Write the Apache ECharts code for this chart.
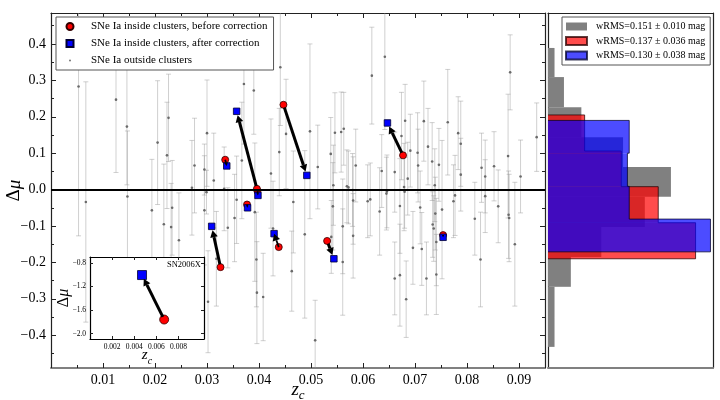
<!DOCTYPE html>
<html>
<head>
<meta charset="UTF-8">
<title>Δμ vs z_c</title>
<script src="https://cdn.jsdelivr.net/npm/echarts@6/dist/echarts.min.js"></script>
<style>
  html, body { margin: 0; padding: 0; background: #fff; }
  #main { width: 720px; height: 400px; }
</style>
</head>
<body>
<div id="main"></div>
<script>
// ---- SNe Ia outside clusters: redshift, residual, error ----
const outZ = [0.0053, 0.0067, 0.0125, 0.0146, 0.0147, 0.0194, 0.0205, 0.0217, 0.0223, 0.0226, 0.0231, 0.0233,
  0.0276, 0.0271, 0.0246, 0.0300, 0.0295, 0.0299, 0.0295, 0.0302, 0.0313, 0.0318, 0.0333, 0.0340, 0.0353, 0.0357,
  0.0367, 0.0371, 0.0390, 0.0392, 0.0395, 0.0396, 0.0408, 0.0423, 0.0427, 0.0439, 0.0441, 0.0452, 0.0463, 0.0466,
  0.0488, 0.0498, 0.0508, 0.0513, 0.0538, 0.0543, 0.0542, 0.0546, 0.0539, 0.0558, 0.0563, 0.0561, 0.0561, 0.0569,
  0.0572, 0.0580, 0.0581, 0.0581, 0.0586, 0.0609, 0.0614, 0.0617, 0.0632, 0.0636, 0.0642, 0.0645, 0.0646, 0.0661,
  0.0661, 0.0671, 0.0671, 0.0674, 0.0679, 0.0680, 0.0681, 0.0683, 0.0686, 0.0691, 0.0696, 0.0705, 0.0706, 0.0710,
  0.0713, 0.0717, 0.0722, 0.0725, 0.0733, 0.0734, 0.0736, 0.0738, 0.0739, 0.0741, 0.0741, 0.0746, 0.0752, 0.0763,
  0.0774, 0.0777, 0.0783, 0.0788, 0.0788, 0.0815, 0.0826, 0.0828, 0.0835, 0.0835, 0.0852, 0.0860, 0.0879, 0.0880,
  0.0881, 0.0883, 0.0892, 0.0903, 0.0934];
const outDmu = [0.283, -0.034, 0.247, 0.173, -0.019, -0.057, 0.129, -0.095, 0.094, 0.197, -0.103, -0.050,
  0.066, 0.005, -0.139, 0.155, 0.055, -0.007, -0.057, -0.308, 0.025, -0.190, 0.002, -0.105, -0.078, -0.028,
  0.080, 0.290, 0.272, -0.062, -0.192, -0.283, -0.295, 0.044, -0.107, 0.103, 0.336, 0.153, -0.224, -0.034,
  -0.123, 0.160, -0.414, 0.062, 0.098, 0.012, -0.046, 0.156, -0.130, 0.158, 0.167, -0.101, -0.199, 0.009,
  0.006, -0.001, -0.030, -0.127, 0.066, -0.032, -0.027, 0.313, -0.060, 0.051, 0.365, -0.011, -0.005, 0.048,
  -0.244, -0.045, -0.235, 0.147, 0.007, -0.006, 0.189, -0.301, 0.030, 0.107, -0.160, 0.101, 0.066, -0.049,
  -0.163, 0.188, -0.244, 0.118, 0.077, -0.096, -0.107, 0.012, -0.066, -0.144, -0.233, 0.068, -0.055, 0.185,
  -0.032, -0.016, 0.155, 0.126, 0.041, -0.080, -0.192, 0.060, 0.036, -0.018, 0.064, -0.046, 0.092, -0.069,
  -0.078, 0.322, -0.150, 0.036, 0.144];
const outErr = [0.41, 0.33, 0.20, 0.16, 0.18, 0.14, 0.17, 0.165, 0.146, 0.12, 0.12, 0.13,
  0.13, 0.13, 0.13, 0.146, 0.07, 0.06, 0.15, 0.14, 0.13, 0.13, 0.115, 0.11, 0.12, 0.12,
  0.16, 0.165, 0.12, 0.19, 0.13, 0.14, 0.12, 0.15, 0.13, 0.12, 0.16, 0.15, 0.11, 0.14,
  0.23, 0.24, 0.11, 0.115, 0.10, 0.11, 0.12, 0.11, 0.10, 0.11, 0.10, 0.13, 0.146, 0.10,
  0.10, 0.10, 0.12, 0.116, 0.10, 0.10, 0.10, 0.133, 0.12, 0.10, 0.20, 0.10, 0.10, 0.11,
  0.10, 0.13, 0.14, 0.12, 0.12, 0.10, 0.10, 0.105, 0.10, 0.10, 0.10, 0.11, 0.10, 0.10,
  0.10, 0.11, 0.10, 0.105, 0.107, 0.09, 0.09, 0.10, 0.10, 0.12, 0.11, 0.10, 0.19, 0.145,
  0.10, 0.11, 0.10, 0.117, 0.10, 0.10, 0.13, 0.095, 0.10, 0.10, 0.095, 0.10, 0.17, 0.12,
  0.12, 0.103, 0.17, 0.10, 0.094];

// ---- SNe Ia inside clusters, before / after correction ----
const beforeZ   = [0.0326, 0.0335, 0.0397, 0.0396, 0.0377, 0.0438, 0.0447, 0.0531, 0.0677, 0.0754];
const beforeDmu = [-0.213, 0.082, -0.004, 0.002, -0.041, -0.158, 0.233, -0.141, 0.094, -0.125];
const afterZ    = [0.0309, 0.0338, 0.0398, 0.0357, 0.0378, 0.0429, 0.0492, 0.0544, 0.0647, 0.0754];
const afterDmu  = [-0.101, 0.065, -0.016, 0.215, -0.050, -0.121, 0.039, -0.190, 0.183, -0.131];

// SN2006X (inset): [before, after]
const sn2006xZ   = [0.0067, 0.0047];
const sn2006xDmu = [-1.76, -1.006];

// ---- residual histograms (density), bins from top to bottom ----
const grayEdges = [0.389, 0.309, 0.226, 0.144, 0.062, -0.020, -0.103, -0.185, -0.267, -0.350, -0.432];
const grayDens  = [0.18, 0.44, 0.92, 2.07, 3.39, 2.67, 1.47, 0.63, 0.18, 0.18];
const redEdges  = [0.205, 0.106, 0.008, -0.091, -0.190];
const redDens   = [1.01, 2.02, 3.04, 4.07];
const blueEdges = [0.190, 0.100, 0.009, -0.081, -0.171];
const blueDens  = [2.24, 2.19, 2.24, 4.48];
const histNames = ['wRMS=0.151 \u00b1 0.010 mag', 'wRMS=0.137 \u00b1 0.036 mag', 'wRMS=0.130 \u00b1 0.038 mag'];

// ---- tick values ----
const yTicks = [-0.4, -0.3, -0.2, -0.1, 0.0, 0.1, 0.2, 0.3, 0.4];
const yMinorTicks = [-0.45, -0.35, -0.25, -0.15, -0.05, 0.05, 0.15, 0.25, 0.35, 0.45];
const insetYTicks = [-2.0, -1.6, -1.2, -0.8];
const insetXTicks = [0.002, 0.004, 0.006, 0.008];

const SERIF = "'Liberation Serif', 'DejaVu Serif', serif";
const DARK = '#222';
const fmt = (v, d) => (v < -1e-9 ? '\u2212' : '') + Math.abs(v).toFixed(d);

const errRows = outZ.map((z, i) => [z, outDmu[i], outErr[i]]);
const pairRows = beforeZ.map((z, i) => [z, beforeDmu[i], afterZ[i], afterDmu[i]]);

function errorBarItem(params, api) {
  const x = api.value(0), y = api.value(1), e = api.value(2);
  const top = api.coord([x, y + e]), bot = api.coord([x, y - e]);
  const cap = 2.5;
  const style = { stroke: 'rgba(150,150,150,0.45)', lineWidth: 1 };
  return {
    type: 'group',
    children: [
      { type: 'line', shape: { x1: top[0], y1: top[1], x2: bot[0], y2: bot[1] }, style },
      { type: 'line', shape: { x1: top[0] - cap, y1: top[1], x2: top[0] + cap, y2: top[1] }, style },
      { type: 'line', shape: { x1: bot[0] - cap, y1: bot[1], x2: bot[0] + cap, y2: bot[1] }, style }
    ]
  };
}

function arrowItem(params, api) {
  const p0 = api.coord([api.value(0), api.value(1)]);
  const p1 = api.coord([api.value(2), api.value(3)]);
  const dx = p1[0] - p0[0], dy = p1[1] - p0[1];
  const len = Math.hypot(dx, dy);
  if (len < 0.5) return;
  const ux = dx / len, uy = dy / len;
  const longOne = len > 16;
  const sA = longOne ? 3 : 0, sB = longOne ? 4 : 0;
  const head = Math.min(7, len * 0.5);
  const hw = head * 0.55;
  const lw = longOne ? 3 : 1.8;
  const tip = [p1[0] - ux * sB, p1[1] - uy * sB];
  const base = [tip[0] - ux * head, tip[1] - uy * head];
  const start = [p0[0] + ux * sA, p0[1] + uy * sA];
  const children = [{
    type: 'polygon',
    shape: { points: [tip, [base[0] - uy * hw, base[1] + ux * hw], [base[0] + uy * hw, base[1] - ux * hw]] },
    style: { fill: '#000' }
  }];
  if (len - sA - sB - head > 0) {
    children.push({ type: 'line', shape: { x1: start[0], y1: start[1], x2: base[0], y2: base[1] },
      style: { stroke: '#000', lineWidth: lw } });
  }
  return { type: 'group', children };
}

function histSeries(name, edges, dens, fill, edge) {
  const rows = dens.map((d, i) => [edges[i + 1], edges[i], d, i === 0 ? 0 : dens[i - 1], i === dens.length - 1 ? 1 : 0]);
  return {
    type: 'custom', name, xAxisIndex: 2, yAxisIndex: 4, silent: true,
    itemStyle: edge ? { color: fill, borderColor: edge, borderWidth: 1 } : { color: fill },
    encode: { x: 2, y: [0, 1] },
    data: rows,
    renderItem(params, api) {
      const lo = api.value(0), hi = api.value(1), d = api.value(2), prev = api.value(3), last = api.value(4);
      const a = api.coord([0, hi]), b = api.coord([d, lo]);
      const children = [{ type: 'rect', shape: { x: a[0], y: a[1], width: b[0] - a[0], height: b[1] - a[1] }, style: { fill } }];
      if (edge) {
        const pts = [api.coord([prev, hi]), api.coord([d, hi]), api.coord([d, lo])];
        if (last) pts.push(api.coord([0, lo]));
        children.push({ type: 'polyline', shape: { points: pts }, style: { stroke: edge, lineWidth: 1, fill: null } });
      }
      return { type: 'group', children };
    }
  };
}

const noSplit = { show: false };
const tickIn = (len, vals) => Object.assign({ show: true, inside: true, length: len, lineStyle: { color: DARK, width: 1 } },
  vals ? { customValues: vals } : {});
const line = (color, width) => ({ show: true, onZero: false, lineStyle: { color, width } });
const noLine = { show: false, onZero: false };

const chart = echarts.init(document.getElementById('main'));
const option = {
  animation: false,
  backgroundColor: '#fff',
  textStyle: { fontFamily: SERIF },
  grid: [
    { left: 51, right: 175, top: 13, bottom: 32, outerBoundsMode: 'none', containLabel: false },
    { left: 548, right: 7, top: 13, bottom: 32, outerBoundsMode: 'none', containLabel: false },
    { left: 90, right: 516, top: 257, bottom: 61, outerBoundsMode: 'none', containLabel: false,
      show: true, backgroundColor: '#fff', borderWidth: 0, z: 8 }
  ],
  legend: [
    {
      data: [
        { name: 'SNe Ia inside clusters, before correction', icon: 'circle' },
        { name: 'SNe Ia inside clusters, after correction', icon: 'path://M0,0L10,0L10,10L0,10Z' },
        { name: 'SNe Ia outside clusters', icon: 'circle', itemStyle: { color: '#777', borderColor: '#fff', borderWidth: 5 } }
      ],
      orient: 'vertical', left: 56, top: 17, z: 10,
      itemWidth: 30, itemHeight: 7, itemGap: 4,
      padding: [3, 6, 3, 8],
      backgroundColor: '#fff', borderColor: '#555', borderWidth: 1,
      textStyle: { fontFamily: SERIF, fontSize: 11, color: '#000', lineHeight: 13, padding: [0, 0, 0, 1] }
    },
    {
      data: histNames,
      orient: 'vertical', left: 562, top: 17, z: 10,
      icon: 'rect', itemWidth: 21, itemHeight: 8, itemGap: 3.5,
      padding: [4, 5, 4, 3],
      backgroundColor: '#fff', borderColor: '#555', borderWidth: 1,
      textStyle: { fontFamily: SERIF, fontSize: 10, color: '#000', lineHeight: 11, padding: [0, 0, 0, 4] }
    }
  ],
  xAxis: [
    {
      type: 'value', gridIndex: 0, position: 'bottom', min: 0, max: 0.095, interval: 0.01,
      axisLine: line('#808080', 2), axisTick: tickIn(5), splitLine: noSplit,
      minorTick: { show: true, splitNumber: 2, length: 3, lineStyle: { color: DARK } },
      axisLabel: {
        margin: 5, fontSize: 14, color: '#000', fontFamily: SERIF,
        formatter: v => (v > 0.001 && Math.abs(v * 100 - Math.round(v * 100)) < 1e-6) ? v.toFixed(2) : ''
      },
      name: '{z|z}{c|c}', nameLocation: 'middle', nameGap: 12, nameMoveOverlap: false,
      nameTextStyle: { rich: {
        z: { fontSize: 19, fontStyle: 'italic', fontFamily: SERIF, color: '#000', lineHeight: 18, verticalAlign: 'top' },
        c: { fontSize: 13, fontStyle: 'italic', fontFamily: SERIF, color: '#000', lineHeight: 22, verticalAlign: 'bottom' }
      } }
    },
    {
      type: 'value', gridIndex: 0, position: 'top', min: 0, max: 0.095, interval: 0.01,
      axisLine: line(DARK, 1.2), axisTick: tickIn(5), splitLine: noSplit, axisLabel: { show: false },
      minorTick: { show: true, splitNumber: 2, length: 3, lineStyle: { color: DARK } }
    },
    {
      type: 'value', gridIndex: 1, position: 'bottom', min: 0, max: 4.55,
      axisLine: line('#808080', 2), axisTick: { show: false }, axisLabel: { show: false }, splitLine: noSplit
    },
    {
      type: 'value', gridIndex: 1, position: 'top', min: 0, max: 4.55,
      axisLine: line(DARK, 1.2), axisTick: { show: false }, axisLabel: { show: false }, splitLine: noSplit
    },
    {
      type: 'value', gridIndex: 2, position: 'bottom', min: 0, max: 0.0103, z: 9,
      axisLine: line('#000', 1.2), axisTick: tickIn(3, insetXTicks), splitLine: noSplit,
      axisLabel: { customValues: insetXTicks, margin: 4, fontSize: 7.5, color: '#000', fontFamily: SERIF, formatter: v => v.toFixed(3) },
      name: '{z|z}{c|c}', nameLocation: 'middle', nameGap: 9, nameMoveOverlap: false,
      nameTextStyle: { rich: {
        z: { fontSize: 15, fontStyle: 'italic', fontFamily: SERIF, color: '#000', lineHeight: 15, verticalAlign: 'top' },
        c: { fontSize: 10, fontStyle: 'italic', fontFamily: SERIF, color: '#000', lineHeight: 18, verticalAlign: 'bottom' }
      } }
    },
    {
      type: 'value', gridIndex: 2, position: 'top', min: 0, max: 0.0103, z: 9,
      axisLine: line('#000', 1.2), axisTick: tickIn(3, insetXTicks), axisLabel: { show: false }, splitLine: noSplit
    }
  ],
  yAxis: [
    {
      type: 'value', gridIndex: 0, position: 'left', min: -0.49, max: 0.485,
      axisLine: line(DARK, 1.2), axisTick: tickIn(5, yTicks), splitLine: noSplit,
      axisLabel: { customValues: yTicks, margin: 5, fontSize: 14, color: '#000', fontFamily: SERIF, formatter: v => fmt(v, 1) },
      name: '{d|\u0394}{m|\u03bc}', nameLocation: 'middle', nameGap: 27, nameMoveOverlap: false,
      nameTextStyle: { rich: {
        d: { fontSize: 19, fontFamily: SERIF, color: '#000' },
        m: { fontSize: 19, fontStyle: 'italic', fontFamily: SERIF, color: '#000' }
      } }
    },
    {
      type: 'value', gridIndex: 0, position: 'right', min: -0.49, max: 0.485,
      axisLine: line(DARK, 1.2), axisTick: tickIn(5, yTicks), axisLabel: { show: false }, splitLine: noSplit
    },
    {
      type: 'value', gridIndex: 0, position: 'left', min: -0.49, max: 0.485,
      axisLine: noLine, axisTick: tickIn(3, yMinorTicks), axisLabel: { show: false }, splitLine: noSplit
    },
    {
      type: 'value', gridIndex: 0, position: 'right', min: -0.49, max: 0.485,
      axisLine: noLine, axisTick: tickIn(3, yMinorTicks), axisLabel: { show: false }, splitLine: noSplit
    },
    {
      type: 'value', gridIndex: 1, position: 'left', min: -0.49, max: 0.485,
      axisLine: line(DARK, 1.2), axisTick: { show: false }, axisLabel: { show: false }, splitLine: noSplit
    },
    {
      type: 'value', gridIndex: 1, position: 'right', min: -0.49, max: 0.485,
      axisLine: line(DARK, 1.2), axisTick: { show: false }, axisLabel: { show: false }, splitLine: noSplit
    },
    {
      type: 'value', gridIndex: 2, position: 'left', min: -2.09, max: -0.7, z: 9,
      axisLine: line('#000', 1.2), axisTick: tickIn(3, insetYTicks), splitLine: noSplit,
      axisLabel: { customValues: insetYTicks, margin: 4, fontSize: 7.5, color: '#000', fontFamily: SERIF, formatter: v => fmt(v, 1) },
      name: '{d|\u0394}{m|\u03bc}', nameLocation: 'middle', nameGap: 18, nameMoveOverlap: false,
      nameTextStyle: { rich: {
        d: { fontSize: 16, fontFamily: SERIF, color: '#000' },
        m: { fontSize: 16, fontStyle: 'italic', fontFamily: SERIF, color: '#000' }
      } }
    },
    {
      type: 'value', gridIndex: 2, position: 'right', min: -2.09, max: -0.7, z: 9,
      axisLine: line('#000', 1.2), axisTick: tickIn(3, insetYTicks), axisLabel: { show: false }, splitLine: noSplit
    }
  ],
  graphic: [
    { type: 'text', left: 167, top: 260, z: 12, silent: true,
      style: { text: 'SN2006X', font: '8.5px ' + SERIF, fill: '#000' } }
  ],
  series: [
    {
      name: 'errors', type: 'custom', xAxisIndex: 0, yAxisIndex: 0, z: 2, clip: true, silent: true,
      encode: { x: 0, y: 1 }, data: errRows, renderItem: errorBarItem
    },
    {
      name: 'SNe Ia outside clusters', type: 'scatter', xAxisIndex: 0, yAxisIndex: 0, z: 3, silent: true,
      symbol: 'circle', symbolSize: 2.6, itemStyle: { color: '#6a6a6a', opacity: 1 },
      data: outZ.map((z, i) => [z, outDmu[i]]),
      markLine: {
        silent: true, symbol: ['none', 'none'], label: { show: false },
        lineStyle: { color: '#000', width: 2, type: 'solid' },
        data: [{ yAxis: 0 }]
      }
    },
    {
      name: 'SNe Ia inside clusters, before correction', type: 'scatter', xAxisIndex: 0, yAxisIndex: 0, z: 4, silent: true,
      symbol: 'circle', symbolSize: 7, itemStyle: { color: '#ff0000', borderColor: '#300', borderWidth: 0.8, opacity: 1 },
      data: beforeZ.map((z, i) => [z, beforeDmu[i]])
    },
    {
      name: 'SNe Ia inside clusters, after correction', type: 'scatter', xAxisIndex: 0, yAxisIndex: 0, z: 5, silent: true,
      symbol: 'rect', symbolSize: 6.5, itemStyle: { color: '#0000ff', borderColor: '#003', borderWidth: 0.8, opacity: 1 },
      data: afterZ.map((z, i) => [z, afterDmu[i]])
    },
    {
      name: 'shift', type: 'custom', xAxisIndex: 0, yAxisIndex: 0, z: 6, silent: true,
      encode: { x: [0, 2], y: [1, 3] }, data: pairRows, renderItem: arrowItem
    },
    histSeries(histNames[0], grayEdges, grayDens, 'rgb(128,128,128)', null),
    histSeries(histNames[1], redEdges, redDens, 'rgba(255,0,0,0.7)', 'rgba(40,0,0,0.75)'),
    histSeries(histNames[2], blueEdges, blueDens, 'rgba(0,0,255,0.7)', 'rgba(0,0,40,0.75)'),
    {
      name: 'SN2006X shift', type: 'custom', xAxisIndex: 4, yAxisIndex: 6, z: 11, silent: true,
      encode: { x: [0, 2], y: [1, 3] },
      data: [[sn2006xZ[0], sn2006xDmu[0], sn2006xZ[1], sn2006xDmu[1]]], renderItem: arrowItem
    },
    {
      name: 'SN2006X before', type: 'scatter', xAxisIndex: 4, yAxisIndex: 6, z: 10, silent: true,
      symbol: 'circle', symbolSize: 9, itemStyle: { color: '#ff0000', borderColor: '#300', borderWidth: 0.8, opacity: 1 },
      data: [[sn2006xZ[0], sn2006xDmu[0]]]
    },
    {
      name: 'SN2006X after', type: 'scatter', xAxisIndex: 4, yAxisIndex: 6, z: 10, silent: true,
      symbol: 'rect', symbolSize: 9, itemStyle: { color: '#0000ff', borderColor: '#003', borderWidth: 0.8, opacity: 1 },
      data: [[sn2006xZ[1], sn2006xDmu[1]]]
    }
  ]
};
chart.setOption(option);
</script>
</body>
</html>
